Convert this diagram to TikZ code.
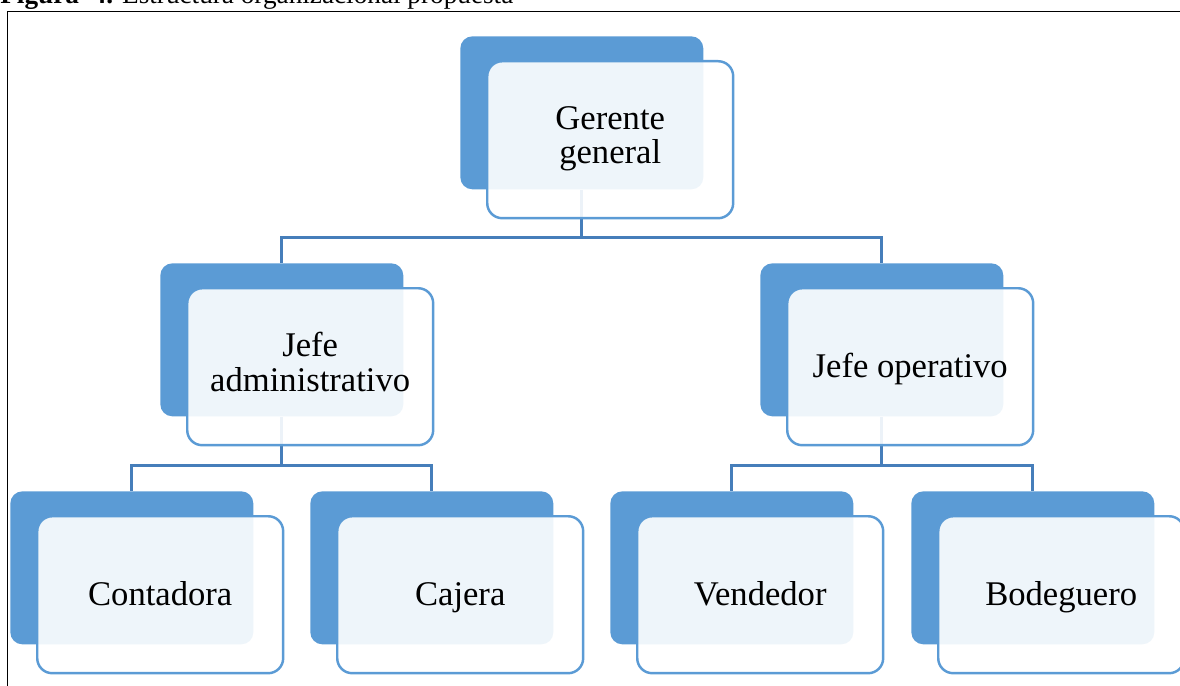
\documentclass[tikz,border=0pt]{standalone}
\usepackage{fontspec}
\setmainfont{Liberation Serif}
\usetikzlibrary{backgrounds}

\definecolor{boxblue}{RGB}{91,155,213}
\definecolor{lineblue}{RGB}{70,126,186}

\newcommand{\boxstrut}{\rule[-5.6pt]{0pt}{23.6pt}}

\tikzset{
	backbox/.style={fill=boxblue, rounded corners=0.24cm, minimum width=4.86cm, minimum height=3.06cm, anchor=north west, inner sep=0pt},
	frontbox/.style={draw=boxblue, line width=1.4pt, fill=white, fill opacity=0.9, text opacity=1, rounded corners=0.3cm, minimum width=4.92cm, minimum height=3.14cm, anchor=north west, align=center, inner sep=0pt, font=\fontsize{19.7}{19.5}\selectfont, execute at begin node={\boxstrut}, execute at end node={\boxstrut}},
	conn/.style={draw=lineblue, line width=1.7pt}
}

\begin{document}
\begin{tikzpicture}[x=0.02cm,y=-0.02cm]
		\clip (0,0) rectangle (1180,686);
		
		% caption and frame
		\node[anchor=base west, inner sep=0pt, font=\fontsize{15.5}{15.5}\selectfont] (caption) at (0,4) {\textbf{Figura\ \ 4.} Estructura organizacional propuesta};
		\draw[line width=0.9pt] (7.5,700) -- (7.5,11.5) -- (1190,11.5);
		
		% boxes: name/x/y/text
		\foreach \n/\x/\y/\t in {gg/460/36/{Gerente\\general}, ja/160/263/{Jefe\\administrativo}, jo/760/263/{Jefe operativo}, co/10/491/{Contadora}, ca/310/491/{Cajera}, ve/610/491/{Vendedor}, bo/911/491/{Bodeguero}}{
			\node[backbox] (\n-b) at (\x,\y) {};
			\node[frontbox] (\n) at ({\x+26},{\y+24}) {\t};
		}
		
		% connectors
		\begin{scope}[on background layer]
			\draw[conn] (gg-b.south) -- ++(0,48) coordinate (gg-j) -| (ja-b.north) (gg-j) -| (jo-b.north);
			\draw[conn] (ja-b.south) -- ++(0,49) coordinate (ja-j) -| (co-b.north) (ja-j) -| (ca-b.north);
			\draw[conn] (jo-b.south) -- ++(0,49) coordinate (jo-j) -| (ve-b.north) (jo-j) -| (bo-b.north);
		\end{scope}
	\end{tikzpicture}
\end{document}
